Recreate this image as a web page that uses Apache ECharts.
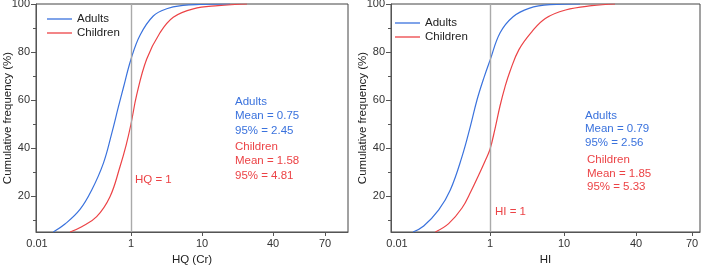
<!DOCTYPE html>
<html><head><meta charset="utf-8">
<script src="https://cdn.jsdelivr.net/npm/echarts@6/dist/echarts.min.js"></script>
<style>html,body{margin:0;padding:0;background:#fff}#c{width:704px;height:267px}</style>
</head><body><div id="c"></div>
<script>
// ---- data ----
const xTickLabels = [0.01, 1, 10, 40, 70];
const yTickLabels = [20, 40, 60, 80, 100];
const yMinorTicks = [10, 30, 50, 70, 90];
const seriesNames = ['Adults', 'Children'];

// Left panel: HQ (Cr)
const adultsHQ_L   = [0.0222, 0.0394, 0.0822, 0.146, 0.258, 0.388, 0.537, 0.686, 1.0, 1.34, 2.06, 3.18, 5.40, 9.37, 17.3];
const adultsCF_L   = [5, 8.3, 14.4, 22.5, 33.6, 46, 57, 65, 77, 87, 95, 98, 99.4, 99.8, 100];
const childrenHQ_L = [0.0504, 0.0894, 0.186, 0.357, 0.583, 0.783, 1.0, 1.20, 1.66, 2.56, 3.94, 7.54, 13.7, 24.1];
const childrenCF_L = [5, 7.2, 11.4, 19.7, 32.2, 41, 50, 62, 77, 88, 94.5, 98, 99.3, 100];

// Right panel: HI
const adultsHI_R   = [0.0221, 0.0375, 0.0789, 0.140, 0.250, 0.377, 0.525, 0.732, 1.0, 1.37, 2.05, 3.36, 6.47, 13.6];
const adultsCF_R   = [5, 7.5, 14.2, 22.5, 36.4, 48.9, 60, 69, 76.5, 88, 94.7, 98.2, 99.7, 100];
const childrenHI_R = [0.0667, 0.129, 0.25, 0.39, 0.579, 0.78, 1.0, 1.168, 1.365, 1.595, 1.864, 2.46, 3.69, 5.59, 10.3, 17.1, 26.7];
const childrenCF_R = [5, 8.5, 15, 22, 29, 34.5, 39.5, 48, 57.5, 65.5, 72, 81, 88.5, 94, 97.5, 99.3, 100];

const statsL = { adults: ['Adults', 'Mean = 0.75', '95% = 2.45'], children: ['Children', 'Mean = 1.58', '95% = 4.81'] };
const statsR = { adults: ['Adults', 'Mean = 0.79', '95% = 2.56'], children: ['Children', 'Mean = 1.85', '95% = 5.33'] };

// ---- layout / style config ----
const BLUE = '#3a72dd', RED = '#ec4346';
const FONT = 'Liberation Sans, Arial, sans-serif';
const panels = [
  { grid: { left: 36, top: 4, width: 312, height: 228 }, tickPos: [1, 95, 166, 237, 289], axisMax: 312,
    xName: 'HQ (Cr)', ref: 'HQ = 1', refXY: [135, 180],
    series: [[adultsHQ_L, adultsCF_L], [childrenHQ_L, childrenCF_L]],
    stats: statsL, statA: [235, 101.7, 14.5], statC: [235, 146.7, 14.5],
    legend: { left: 47, top: 12 } },
  { grid: { left: 391, top: 4, width: 309, height: 228 }, tickPos: [6, 99, 173, 245, 301], axisMax: 309,
    xName: 'HI', ref: 'HI = 1', refXY: [495, 211.7],
    series: [[adultsHI_R, adultsCF_R], [childrenHI_R, childrenCF_R]],
    stats: statsR, statA: [585, 115.7, 13.5], statC: [587, 160, 13.4],
    legend: { left: 395, top: 16 } }
];

function toPos(v, tickPos) {
  const lt = xTickLabels.map(Math.log10);
  const lv = Math.log10(v);
  let i = 0;
  while (i < lt.length - 2 && lv > lt[i + 1]) i++;
  const f = (lv - lt[i]) / (lt[i + 1] - lt[i]);
  return tickPos[i] + f * (tickPos[i + 1] - tickPos[i]);
}

const option = { animation: false, grid: [], xAxis: [], yAxis: [], series: [], legend: [], graphic: [] };
const colors = [BLUE, RED];

panels.forEach((p, k) => {
  option.grid.push(Object.assign({ show: true, borderColor: '#444', borderWidth: 1, backgroundColor: 'transparent',
    containLabel: false, outerBoundsMode: 'none' }, p.grid));
  option.xAxis.push({
    type: 'value', gridIndex: k, min: 0, max: p.axisMax,
    name: p.xName, nameLocation: 'middle', nameGap: 22, nameMoveOverlap: false,
    nameTextStyle: { fontFamily: FONT, fontSize: 11.5, color: '#222' },
    axisLine: { lineStyle: { color: '#555' } },
    axisTick: { show: true, length: 4, customValues: p.tickPos.slice(1), lineStyle: { color: '#555' } },
    axisLabel: { customValues: p.tickPos, fontFamily: FONT, fontSize: 11, color: '#333', margin: 6,
      formatter: v => { const i = p.tickPos.findIndex(t => Math.abs(t - v) < 1e-6); return i >= 0 ? String(xTickLabels[i]) : ''; } },
    splitLine: { show: false }
  });
  option.yAxis.push({
    type: 'value', gridIndex: k, min: 5, max: 100,
    name: 'Cumulative frequency (%)', nameLocation: 'middle', nameGap: 22, nameRotate: 90, nameMoveOverlap: false,
    nameTextStyle: { fontFamily: FONT, fontSize: 11.5, color: '#222' },
    axisLine: { show: true, lineStyle: { color: '#555' } },
    axisTick: { show: true, length: 5, customValues: yTickLabels, lineStyle: { color: '#555' } },
    axisLabel: { customValues: yTickLabels, fontFamily: FONT, fontSize: 11, color: '#333', margin: 6 },
    splitLine: { show: false }
  });
  option.yAxis.push({
    type: 'value', gridIndex: k, min: 5, max: 100, position: 'left',
    axisLine: { show: false },
    axisTick: { show: true, length: 3, customValues: yMinorTicks, lineStyle: { color: '#555' } },
    axisLabel: { show: false }, splitLine: { show: false }
  });
  const yMain = option.yAxis.length - 2;
  p.series.forEach((s, j) => {
    const ser = {
      type: 'line', name: seriesNames[j], xAxisIndex: k, yAxisIndex: yMain,
      data: s[0].map((v, i) => [toPos(v, p.tickPos), s[1][i]]),
      smooth: 0.4, symbol: 'none', color: colors[j], lineStyle: { width: 1.2, color: colors[j] }, z: 3
    };
    if (j === 0) {
      ser.markLine = { silent: true, symbol: 'none', label: { show: false },
        lineStyle: { color: '#aaaaaa', width: 1.4, type: 'solid' },
        data: [{ xAxis: toPos(1, p.tickPos) }] };
    }
    option.series.push(ser);
  });
  option.legend.push({
    data: seriesNames, orient: 'vertical', left: p.legend.left, top: p.legend.top, padding: 0,
    icon: 'rect', itemWidth: 25, itemHeight: 1.3, itemGap: 0,
    textStyle: { fontFamily: FONT, fontSize: 11.5, color: '#222', lineHeight: 14 }
  });
  const txt = (t, x, y, c) => ({ type: 'text', x: x, y: y, z: 10,
    style: { text: t, fill: c, font: '11.5px ' + FONT, verticalAlign: 'middle', align: 'left' } });
  p.stats.adults.forEach((t, i) => option.graphic.push(txt(t, p.statA[0], p.statA[1] + i * p.statA[2], BLUE)));
  p.stats.children.forEach((t, i) => option.graphic.push(txt(t, p.statC[0], p.statC[1] + i * p.statC[2], RED)));
  option.graphic.push(txt(p.ref, p.refXY[0], p.refXY[1], RED));
});

const chart = echarts.init(document.getElementById('c'), null, { renderer: 'canvas' });
chart.setOption(option);
</script>
</body></html>
